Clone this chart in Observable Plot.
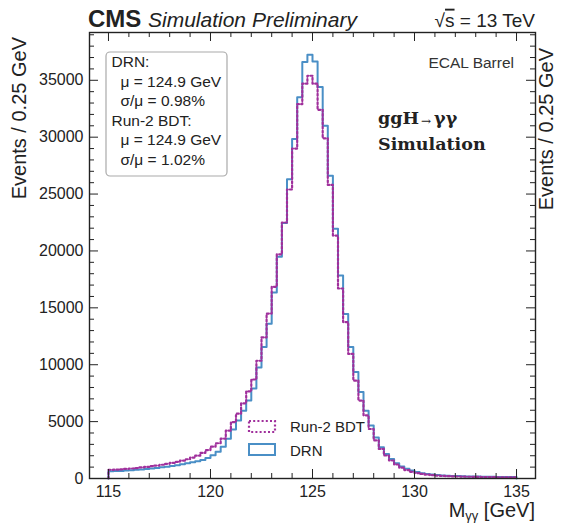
<!DOCTYPE html>
<html><head><meta charset="utf-8">
<script src="https://cdn.jsdelivr.net/npm/d3@7"></script>
<script src="https://cdn.jsdelivr.net/npm/@observablehq/plot@0.6"></script>
<style>
html,body{margin:0;padding:0;background:#fff;}
#wrap{position:relative;width:562px;height:525px;overflow:hidden;}
#wrap svg{position:absolute;left:0;top:0;}
</style></head><body><div id="wrap"></div>
<script>
// Histogram: 0.25 GeV bins starting at 115 GeV
const binStart = 115;
const binWidth = 0.25;
const drn = [640,650,670,700,730,760,800,840,880,930,980,1040,1100,1170,1250,1330,1420,1510,1620,1800,
  2050,2350,2800,3500,4300,5100,5950,6850,7900,9750,11550,13600,16350,19500,22450,26300,29850,33500,36600,37250,
  36650,34400,31000,26600,21950,17850,14450,11550,9350,7600,5950,4650,3600,2750,2150,1720,1340,1060,850,700,
  570,470,400,345,300,270,245,225,210,195,185,175,165,158,150,144,138,132,127,122];
const bdt = [760,780,810,840,880,920,970,1020,1080,1140,1210,1290,1370,1460,1570,1690,1840,2010,2250,2500,
  2800,3100,3500,4200,4950,5700,6600,7650,8700,10350,12400,14500,16850,19700,22500,25400,29000,32900,34700,35400,
  34700,32400,29900,25800,21350,16700,13750,10950,8600,6850,5550,4350,3350,2600,2020,1580,1230,950,740,590,
  480,400,340,295,255,225,205,188,175,163,152,143,135,128,121,115,110,105,100,96];
const xTicks = [115,120,125,130,135];
const xMinor = [116,117,118,119,121,122,123,124,126,127,128,129,131,132,133,134];
const yTicks = [0,5000,10000,15000,20000,25000,30000,35000];
const yMinor = [1000,2000,3000,4000,6000,7000,8000,9000,11000,12000,13000,14000,16000,17000,18000,19000,
  21000,22000,23000,24000,26000,27000,28000,29000,31000,32000,33000,34000,36000,37000,38000,39000];
const seriesNames = ["Run-2 BDT", "DRN"];
const statsLines = ["DRN:", "μ = 124.9 GeV", "σ/μ = 0.98%", "Run-2 BDT:", "μ = 124.9 GeV", "σ/μ = 1.02%"];

const BLUE = "#4a8fc6", PINK = "#a0309c", INK = "#222";

function stepPoints(vals) {
  const pts = [{x: binStart, y: 0}];
  vals.forEach((v, i) => pts.push({x: binStart + i * binWidth, y: v}));
  pts.push({x: binStart + vals.length * binWidth, y: 0});
  return pts;
}

const W = 562, H = 525, mT = 32, mR = 27, mB = 47, mL = 89;
const fw = W - mL - mR, fh = H - mT - mB;
const maj = 9, mnr = 5;

const chart = Plot.plot({
  width: W, height: H,
  marginTop: mT, marginRight: mR, marginBottom: mB, marginLeft: mL,
  style: {fontFamily: "'Liberation Sans', Arial, sans-serif", fontSize: "16px", color: INK, background: "white"},
  x: {domain: [114.07, 135.93]},
  y: {domain: [0, 39200]},
  marks: [
    Plot.line(stepPoints(drn), {x: "x", y: "y", curve: "step-after", stroke: BLUE, strokeWidth: 2}),
    Plot.line(stepPoints(bdt), {x: "x", y: "y", curve: "step-after", stroke: PINK, strokeWidth: 2.2, strokeDasharray: "2,2.2"}),
    Plot.frame({stroke: INK, strokeWidth: 1.4}),
    Plot.tickX(xTicks, {x: d => d, insetTop: fh - maj, stroke: INK}),
    Plot.tickX(xMinor, {x: d => d, insetTop: fh - mnr, stroke: INK}),
    Plot.tickX(xTicks, {x: d => d, insetBottom: fh - maj, stroke: INK}),
    Plot.tickX(xMinor, {x: d => d, insetBottom: fh - mnr, stroke: INK}),
    Plot.tickY(yTicks, {y: d => d, insetRight: fw - maj, stroke: INK}),
    Plot.tickY(yMinor, {y: d => d, insetRight: fw - mnr, stroke: INK}),
    Plot.tickY(yTicks, {y: d => d, insetLeft: fw - maj, stroke: INK}),
    Plot.tickY(yMinor, {y: d => d, insetLeft: fw - mnr, stroke: INK}),
    Plot.axisX(xTicks, {anchor: "bottom", tickSize: 0, tickPadding: 7, label: null, fontSize: 16, tickFormat: d => String(d)}),
    Plot.axisY(yTicks, {anchor: "left", tickSize: 0, tickPadding: 6, label: null, fontSize: 16, tickFormat: d => String(d)})
  ]
});
const wrap = document.getElementById("wrap");
wrap.appendChild(chart);

// Annotation overlay (text, stats box, legend)
const ov = d3.select(wrap).append("svg").attr("width", W).attr("height", H)
  .style("pointer-events", "none")
  .style("font-family", "'Liberation Sans', Arial, sans-serif").attr("fill", INK);

// Header
ov.append("text").attr("x", 88).attr("y", 27).attr("font-size", 24).attr("font-weight", "bold").text("CMS");
ov.append("text").attr("x", 148).attr("y", 26.7).attr("font-size", 21).attr("font-style", "italic").text("Simulation Preliminary");
const rs = ov.append("text").attr("x", 535).attr("y", 26.7).attr("font-size", 19).attr("text-anchor", "end");
rs.append("tspan").text("√");
rs.append("tspan").style("text-decoration", "overline").text("s");
rs.append("tspan").text(" = 13 TeV");

// Axis titles
ov.append("text").attr("transform", "translate(26,37) rotate(-90)").attr("text-anchor", "end")
  .attr("font-size", 20).text("Events / 0.25 GeV");
ov.append("text").attr("transform", "translate(553,48) rotate(-90)").attr("text-anchor", "end")
  .attr("font-size", 20).text("Events / 0.25 GeV");
const xt = ov.append("text").attr("x", 535).attr("y", 517).attr("font-size", 20).attr("text-anchor", "end");
xt.append("tspan").text("M");
xt.append("tspan").attr("font-size", 13).attr("dy", 2.5).text("γγ");
xt.append("tspan").attr("dy", -2.5).text(" [GeV]");

// Stats box
ov.append("rect").attr("x", 106).attr("y", 52).attr("width", 121).attr("height", 124).attr("rx", 4)
  .attr("fill", "none").attr("stroke", "#aaa").attr("stroke-width", 1.2);
statsLines.forEach((s, i) => {
  const indent = (i === 0 || i === 3) ? 111.5 : 120.5;
  ov.append("text").attr("x", indent).attr("y", 66.9 + i * 19.6).attr("font-size", 15.5).text(s);
});

// ECAL Barrel
ov.append("text").attr("x", 514).attr("y", 68.2).attr("font-size", 15.5).attr("text-anchor", "end")
  .attr("fill", "#333").text("ECAL Barrel");

// ggH -> gamma gamma
const gg = ov.append("text").attr("x", 378).attr("y", 123.5).attr("font-family", "'DejaVu Serif', serif")
  .attr("font-weight", "bold").attr("font-size", 17.5);
gg.append("tspan").text("ggH");
gg.append("tspan").attr("font-size", 12).attr("dx", 2).attr("dy", 1).attr("font-weight", "normal").text("→");
gg.append("tspan").attr("font-size", 17.5).attr("dx", 3).attr("dy", -1).text("γγ");
ov.append("text").attr("x", 378).attr("y", 150).attr("font-family", "'DejaVu Serif', serif")
  .attr("font-weight", "bold").attr("font-size", 17.5).text("Simulation");

// Legend
ov.append("rect").attr("x", 249).attr("y", 421).attr("width", 26).attr("height", 11)
  .attr("fill", "none").attr("stroke", PINK).attr("stroke-width", 2.2).attr("stroke-dasharray", "2,2.2");
ov.append("text").attr("x", 290).attr("y", 431.8).attr("font-size", 15).text(seriesNames[0]);
ov.append("rect").attr("x", 249).attr("y", 444).attr("width", 26).attr("height", 11)
  .attr("fill", "none").attr("stroke", BLUE).attr("stroke-width", 2);
ov.append("text").attr("x", 290).attr("y", 456).attr("font-size", 15).text(seriesNames[1]);
</script>
</body></html>
